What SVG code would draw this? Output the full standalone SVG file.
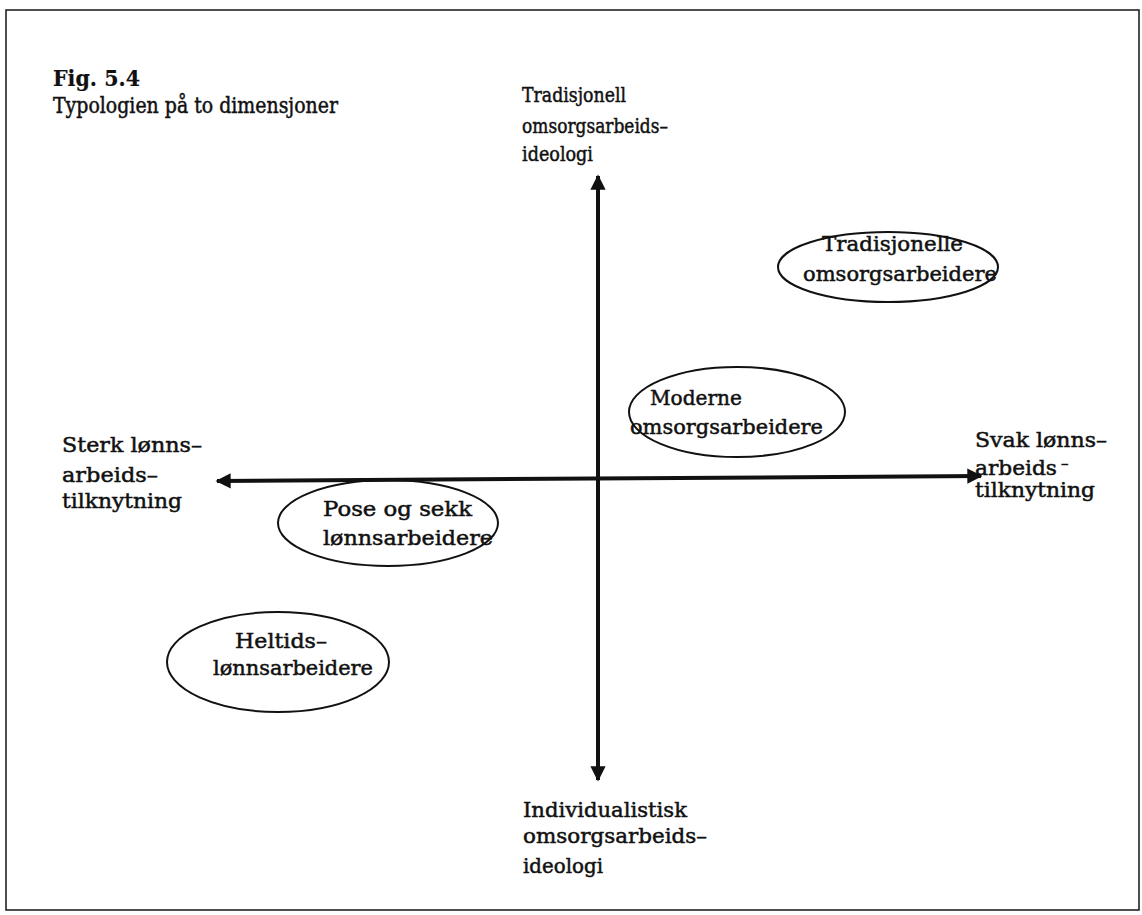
<svg xmlns="http://www.w3.org/2000/svg" width="1142" height="915" viewBox="0 0 1142 915">
<style>
text{font-family:"DejaVu Serif","Liberation Serif",serif;font-size:21px;fill:#111;stroke:#111;stroke-width:0.5;}
.t{font-size:22px;}
.f{font-weight:bold;stroke-width:0.2;}
.e{fill:none;stroke:#111;stroke-width:2;}
.ax{stroke:#111;stroke-width:4;fill:none;}
</style>
<defs>
<marker id="ah" viewBox="0 0 10 10" refX="9" refY="5" markerWidth="4.5" markerHeight="3.8" orient="auto-start-reverse" markerUnits="strokeWidth">
<path d="M0,0 L10,5 L0,10 Z" fill="#111"/>
</marker>
</defs>
<rect width="1142" height="915" fill="#fff"/>
<rect x="6" y="10" width="1133" height="900" fill="none" stroke="#222" stroke-width="1.6"/>
<g id="title">
<text class="t f" x="53" y="86" textLength="87" lengthAdjust="spacingAndGlyphs">Fig. 5.4</text>
<text class="t" x="53" y="113" textLength="285" lengthAdjust="spacingAndGlyphs">Typologien på to dimensjoner</text>
</g>
<g id="connectors">
<line class="ax" x1="598" y1="780" x2="598" y2="176" marker-end="url(#ah)" marker-start="url(#ah)"/>
<line class="ax" x1="217" y1="481" x2="981" y2="476" marker-end="url(#ah)" marker-start="url(#ah)"/>
</g>
<g id="label-top">
<text x="522" y="102" textLength="104" lengthAdjust="spacingAndGlyphs">Tradisjonell</text>
<text x="522" y="133" textLength="146" lengthAdjust="spacingAndGlyphs">omsorgsarbeids–</text>
<text x="522" y="161" textLength="71" lengthAdjust="spacingAndGlyphs">ideologi</text>
</g>
<g id="label-bottom">
<text x="523" y="817" textLength="164" lengthAdjust="spacingAndGlyphs">Individualistisk</text>
<text x="523" y="843" textLength="184" lengthAdjust="spacingAndGlyphs">omsorgsarbeids–</text>
<text x="523" y="873" textLength="80" lengthAdjust="spacingAndGlyphs">ideologi</text>
</g>
<g id="label-left">
<text x="62" y="452" textLength="140" lengthAdjust="spacingAndGlyphs">Sterk lønns–</text>
<text x="62" y="482" textLength="96" lengthAdjust="spacingAndGlyphs">arbeids–</text>
<text x="62" y="508" textLength="120" lengthAdjust="spacingAndGlyphs">tilknytning</text>
</g>
<g id="label-right">
<text x="975" y="447" textLength="132" lengthAdjust="spacingAndGlyphs">Svak lønns–</text>
<text x="975" y="475" textLength="82" lengthAdjust="spacingAndGlyphs">arbeids</text>
<text x="1061" y="468" style="font-size:15px">–</text>
<text x="975" y="497" textLength="120" lengthAdjust="spacingAndGlyphs">tilknytning</text>
</g>
<g id="node-tradisjonelle">
<ellipse class="e" cx="888" cy="267" rx="110" ry="35"/>
<text x="822" y="251" textLength="141" lengthAdjust="spacingAndGlyphs">Tradisjonelle</text>
<text x="803" y="281" textLength="194" lengthAdjust="spacingAndGlyphs">omsorgsarbeidere</text>
</g>
<g id="node-moderne">
<ellipse class="e" cx="737" cy="412" rx="108" ry="45"/>
<text x="650" y="405" textLength="92" lengthAdjust="spacingAndGlyphs">Moderne</text>
<text x="630" y="434" textLength="193" lengthAdjust="spacingAndGlyphs">omsorgsarbeidere</text>
</g>
<g id="node-pose">
<ellipse class="e" cx="388" cy="523" rx="110" ry="43"/>
<text x="323" y="516" textLength="149" lengthAdjust="spacingAndGlyphs">Pose og sekk</text>
<text x="323" y="545" textLength="170" lengthAdjust="spacingAndGlyphs">lønnsarbeidere</text>
</g>
<g id="node-heltids">
<ellipse class="e" cx="278" cy="662" rx="111" ry="50"/>
<text x="235" y="648" textLength="92" lengthAdjust="spacingAndGlyphs">Heltids–</text>
<text x="213" y="675" textLength="160" lengthAdjust="spacingAndGlyphs">lønnsarbeidere</text>
</g>
</svg>
